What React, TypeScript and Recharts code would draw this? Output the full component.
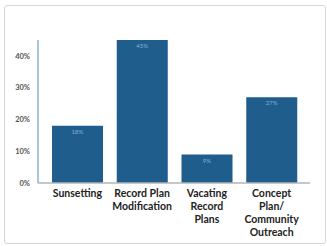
import React from 'react';
import { BarChart, Bar, XAxis, YAxis, LabelList } from 'recharts';

const categories = ['Sunsetting', 'Record Plan Modification', 'Vacating Record Plans', 'Concept Plan/ Community Outreach'];
const categoryLines = [['Sunsetting'], ['Record Plan', 'Modification'], ['Vacating', 'Record', 'Plans'], ['Concept', 'Plan/', 'Community', 'Outreach']];
const shares = [18, 45, 9, 27];
const yTicks = [0, 10, 20, 30, 40];

const data = categories.map((name, i) => ({ name, share: shares[i], lines: categoryLines[i] }));

const font = 'Lato, "Open Sans", sans-serif';

function CategoryTick({ x, y, index }: { x?: number; y?: number; index?: number }) {
  const lines = categoryLines[index ?? 0];
  return (
    <text x={x} y={(y ?? 0) + 6} textAnchor="middle" fill="#222" fontSize={10.5} fontWeight={700} fontFamily={font}>
      {lines.map((line, i) => (
        <tspan key={line} x={x} dy={i === 0 ? 0 : 13}>
          {line}
        </tspan>
      ))}
    </text>
  );
}

export default function App() {
  return (
    <div style={{ position: 'fixed', left: 0, top: 0, width: 327, height: 246, background: '#fff' }}>
      <div
        style={{
          position: 'absolute',
          left: 4,
          top: 5,
          width: 320,
          height: 237,
          border: '1px solid #d6d6d6',
          borderRadius: 3,
        }}
      />
      <div style={{ position: 'absolute', left: 0, top: 0 }}>
        <BarChart width={327} height={246} data={data} margin={{ top: 40, right: 17, bottom: 33, left: 0 }}>
          <YAxis
            width={38}
            domain={[0, 45]}
            ticks={yTicks}
            tickFormatter={(v) => `${v}%`}
            axisLine={{ stroke: '#aac6dc', strokeWidth: 2 }}
            tickLine={false}
            tick={{ fill: '#555', fontSize: 7.5, fontWeight: 700, fontFamily: font }}
            tickMargin={2}
          />
          <XAxis
            dataKey="name"
            interval={0}
            padding={{ left: 7, right: 6 }}
            axisLine={{ stroke: '#b4b4b4', strokeWidth: 1.5 }}
            tickLine={false}
            tick={<CategoryTick />}
          />
          <Bar dataKey="share" fill="#1e5d8c" barSize={51} isAnimationActive={false}>
            <LabelList
              dataKey="share"
              position="insideTop"
              formatter={(v: any) => `${v}%`}
              fill="#8fb0cc"
              fontSize={6}
              fontFamily={font}
              offset={4}
            />
          </Bar>
        </BarChart>
      </div>
    </div>
  );
}
